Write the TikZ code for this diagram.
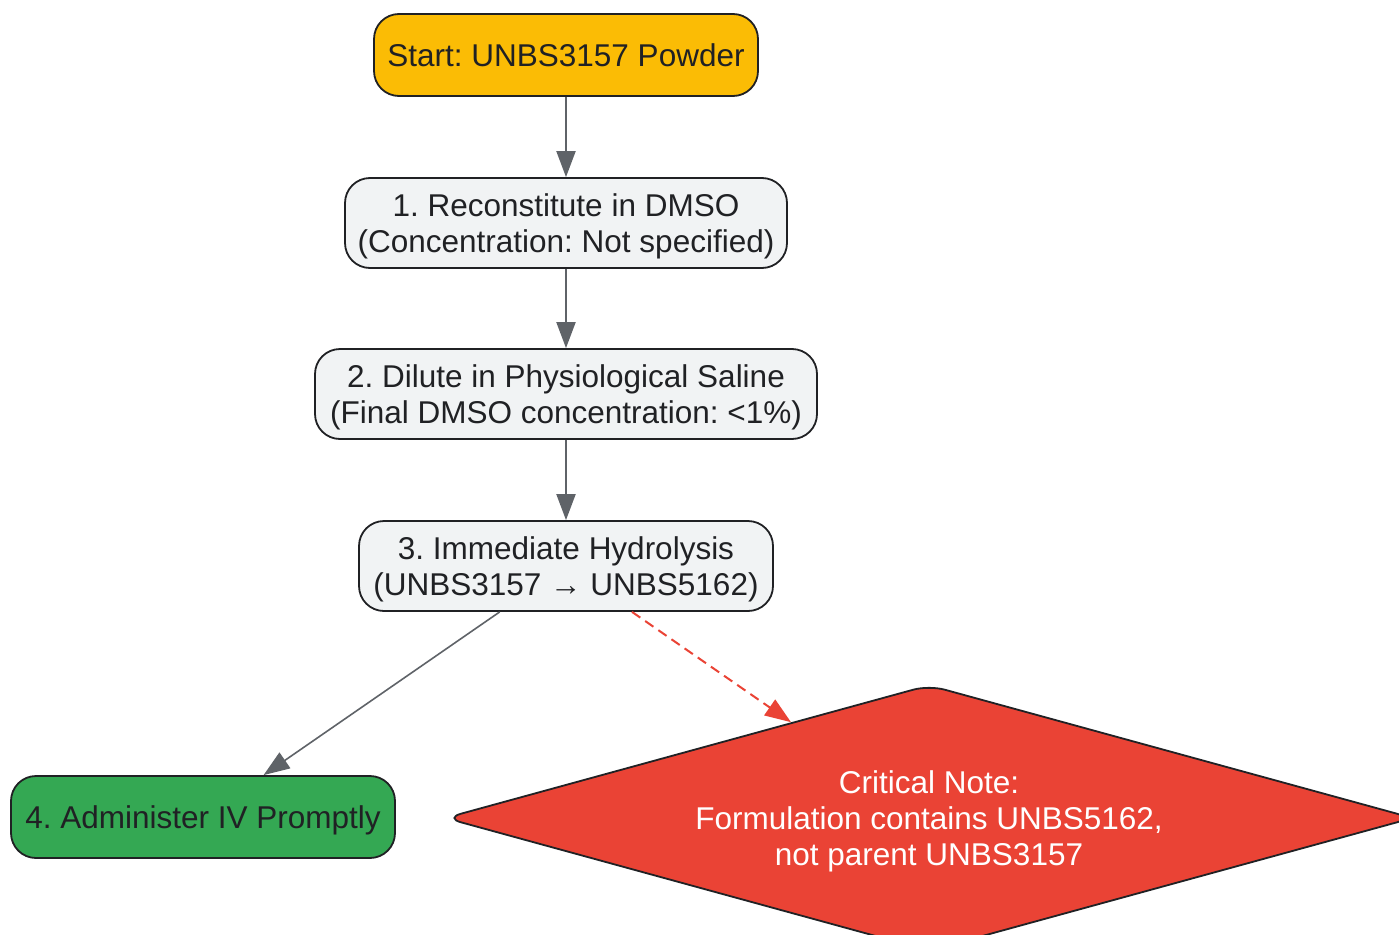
\documentclass[tikz,border=0pt]{standalone}
\usepackage{fontspec}
\setmainfont{Liberation Sans}
\frenchspacing
\usetikzlibrary{shapes.geometric,arrows.meta}
\definecolor{ink}{HTML}{202124}
\definecolor{startc}{HTML}{FBBC05}
\definecolor{stepc}{HTML}{F1F3F4}
\definecolor{okc}{HTML}{34A853}
\definecolor{warnc}{HTML}{EA4335}
\definecolor{arrc}{HTML}{5F6368}
\tikzset{
  box/.style={draw=ink, line width=1.8pt, rounded corners=25pt, inner sep=0pt,
    align=center, text=ink, text depth=0pt, font=\fontsize{31.5}{36}\selectfont},
  flow/.style={draw=arrc, line width=2pt, -{Triangle[length=26pt,width=19pt]}},
  flowthin/.style={draw=arrc, line width=1.6pt, -{Triangle[length=26pt,width=19pt]}},
  warnflow/.style={draw=warnc, line width=2pt, dash pattern=on 10pt off 6pt,
    -{Triangle[length=26pt,width=19pt,fill=warnc]}},
}
\begin{document}
\begin{tikzpicture}[x=1pt,y=-1pt]
\useasboundingbox[fill=white] (0,0) rectangle (1399,934);
\node[box, fill=startc, minimum width=384pt, minimum height=82pt] (s) at (566,55) {Start: UNBS3157 Powder};
\node[box, fill=stepc, minimum width=442pt, minimum height=90pt] (a) at (566,223) {1. Reconstitute in DMSO\\(Concentration: Not specified)};
\node[box, fill=stepc, minimum width=502pt, minimum height=90pt] (b) at (566,394) {2. Dilute in Physiological Saline\\(Final DMSO concentration: <1\%)};
\node[box, fill=stepc, minimum width=414pt, minimum height=90pt] (c) at (566,566) {3. Immediate Hydrolysis\\(UNBS3157 → UNBS5162)};
\node[box, fill=okc, minimum width=384pt, minimum height=82pt] (d) at (203,817) {4. Administer IV Promptly};
\node[diamond, aspect=3.63, draw=ink, line width=1.8pt, fill=warnc, rounded corners=16pt, inner sep=0pt,
  minimum width=968pt, minimum height=266pt, align=center, text=white, text depth=0pt,
  font=\fontsize{31.5}{36}\selectfont] (e) at (929,818) {Critical Note:\\Formulation contains UNBS5162,\\not parent UNBS3157};
\draw[flow] (s) -- (a);
\draw[flow] (a) -- (b);
\draw[flow] (b) -- (c);
\draw[flowthin] (c) -- (d);
\draw[warnflow] (c) -- (e);
\end{tikzpicture}
\end{document}
